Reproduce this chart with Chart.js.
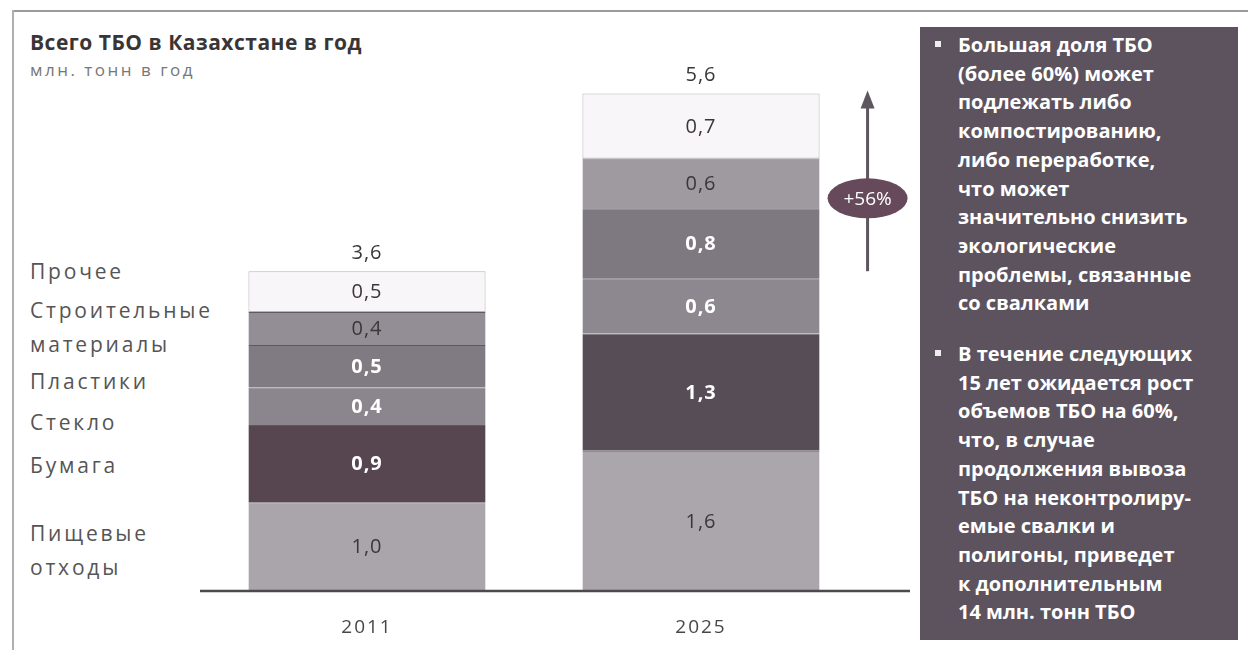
<!DOCTYPE html>
<html>
<head>
<meta charset="utf-8">
<script src="https://cdn.jsdelivr.net/npm/chart.js@4.4.1/dist/chart.umd.min.js"></script>
<style>
	body { margin: 0; width: 1248px; height: 650px; background: #fff; position: relative; overflow: hidden; font-family: 'Open Sans', sans-serif; }
	#frameTop { position: absolute; left: 12px; top: 10px; width: 1236px; height: 2px; background: #9a9a9a; }
	#frameLeft { position: absolute; left: 12px; top: 10px; width: 2px; height: 640px; background: #b0b0b0; }
	#title { position: absolute; left: 30px; top: 28px; font-size: 21px; font-weight: 700; color: #3a3535; letter-spacing: 0.5px; }
	#subtitle { position: absolute; left: 30px; top: 58px; font-size: 17px; color: #777; letter-spacing: 2.5px; }
	#wrap { position: absolute; left: 0; top: 0; width: 915px; height: 650px; }
	.cat { position: absolute; left: 30px; font-size: 21px; color: #555; letter-spacing: 2.8px; line-height: 24px; white-space: nowrap; }
	#panel { position: absolute; left: 920px; top: 27px; width: 318px; height: 613px; background: #5c535e; }
	#panel ul { margin: 0; padding: 0; list-style: none; position: absolute; left: 0; top: 4px; }
	#panel li { position: relative; padding-left: 38px; color: #fff; font-weight: 700; font-size: 20px; line-height: 28.7px; margin-bottom: 22px; white-space: nowrap; }
	#panel li::before { content: ''; position: absolute; left: 15px; top: 10px; width: 6px; height: 6px; background: #eee; }
</style>
</head>
<body>
<div id="frameTop"></div>
<div id="frameLeft"></div>
<div id="title">Всего ТБО в Казахстане в год</div>
<div id="subtitle">млн. тонн в год</div>
<div id="cats"></div>
<div id="wrap"><canvas id="chart" width="915" height="650"></canvas></div>
<div id="panel">
	<ul>
		<li>Большая доля ТБО<br>(более 60%) может<br>подлежать либо<br>компостированию,<br>либо переработке,<br>что может<br>значительно снизить<br>экологические<br>проблемы, связанные<br>со свалками</li>
		<li>В течение следующих<br>15 лет ожидается рост<br>объемов ТБО на 60%,<br>что, в случае<br>продолжения вывоза<br>ТБО на неконтролиру-<br>емые свалки и<br>полигоны, приведет<br>к дополнительным<br>14 млн. тонн ТБО</li>
	</ul>
</div>
<script>
const years = ['2011', '2025'];
const categories = ['Пищевые отходы', 'Бумага', 'Стекло', 'Пластики', 'Строительные материалы', 'Прочее'];
const food = [1.0, 1.58];
const paper = [0.87, 1.32];
const glass = [0.42, 0.62];
const plastic = [0.48, 0.79];
const construction = [0.37, 0.56];
const other = [0.46, 0.73];
const totals = [3.6, 5.6];

// left-hand legend lines (text, centre y in px)
const catLines = [
	['Прочее', 271], ['Строительные', 310], ['материалы', 344], ['Пластики', 381],
	['Стекло', 422], ['Бумага', 465], ['Пищевые', 533], ['отходы', 567]
];
const catRoot = document.getElementById('cats');
for (let [txt, y] of catLines) {
	let d = document.createElement('div');
	d.className = 'cat';
	d.style.top = (y - 12) + 'px';
	d.textContent = txt;
	catRoot.append(d);
}

const fmt = (v) => v.toFixed(1).replace('.', ',');

const seriesValues = [food, paper, glass, plastic, construction, other];
const fills = [
	['#a9a5ab', '#aaa6ac'],
	['#574550', '#574d56'],
	['#8b868d', '#8d888f'],
	['#807a82', '#7e7880'],
	['#938e95', '#9e9aa0'],
	['#f8f6f8', '#f8f6f8']
];
const labelLight = [false, true, true, true, false, false];

const datasets = seriesValues.map((vals, i) => ({
	label: categories[i],
	data: vals,
	backgroundColor: fills[i],
	borderColor: i === 5 ? '#b8b4b8' : '#5f5860',
	borderWidth: i === 5 ? 1 : { top: 1, left: 0, right: 0, bottom: 0 },
	borderSkipped: false,
	barPercentage: 0.71,
	categoryPercentage: 1
}));

const decor = {
	id: 'decor',
	afterDatasetsDraw(chart) {
		const ctx = chart.ctx;
		const area = chart.chartArea;
		const xs = chart.scales.x;
		const ys = chart.scales.y;
		ctx.save();
		ctx.textAlign = 'center';
		ctx.textBaseline = 'middle';
		if ('letterSpacing' in ctx) ctx.letterSpacing = '1px';
		// segment labels
		chart.data.datasets.forEach((ds, i) => {
			const meta = chart.getDatasetMeta(i);
			meta.data.forEach((bar, j) => {
				const mid = (bar.y + bar.base) / 2;
				ctx.font = labelLight[i] ? '700 20px "Open Sans"' : '400 20px "Open Sans"';
				ctx.fillStyle = labelLight[i] ? '#ffffff' : '#3b3638';
				ctx.fillText(fmt(ds.data[j]), bar.x, mid + 1);
			});
		});
		// totals
		ctx.font = '400 20px "Open Sans"';
		ctx.fillStyle = '#3b3638';
		totals.forEach((t, j) => {
			ctx.fillText(fmt(t), xs.getPixelForValue(j), ys.getPixelForValue(t) - 18);
		});
		// year labels
		ctx.font = '400 19px "Open Sans"';
		ctx.fillStyle = '#4a4648';
		if ('letterSpacing' in ctx) ctx.letterSpacing = '2px';
		years.forEach((y, j) => ctx.fillText(y, xs.getPixelForValue(j), area.bottom + 37));
		// baseline
		ctx.strokeStyle = '#4e4a4c';
		ctx.lineWidth = 2.5;
		ctx.beginPath();
		ctx.moveTo(area.left, area.bottom);
		ctx.lineTo(area.right + 42, area.bottom);
		ctx.stroke();
		// growth arrow
		const lastBar = chart.getDatasetMeta(5).data[1];
		const ax = lastBar.x + lastBar.width / 2 + 48;
		const yLow = ys.getPixelForValue(totals[0]);
		const yHigh = ys.getPixelForValue(totals[1]);
		ctx.strokeStyle = '#5e565e';
		ctx.fillStyle = '#5e565e';
		ctx.lineWidth = 3;
		ctx.beginPath();
		ctx.moveTo(ax, yLow);
		ctx.lineTo(ax, yHigh + 12);
		ctx.stroke();
		ctx.beginPath();
		ctx.moveTo(ax, yHigh - 3);
		ctx.lineTo(ax - 7, yHigh + 15);
		ctx.lineTo(ax + 7, yHigh + 15);
		ctx.closePath();
		ctx.fill();
		const growth = Math.round((totals[1] / totals[0] - 1) * 100);
		const ey = (yLow + yHigh) / 2 + 16;
		ctx.fillStyle = '#664a5b';
		ctx.beginPath();
		ctx.ellipse(ax, ey, 40, 20, 0, 0, Math.PI * 2);
		ctx.fill();
		ctx.fillStyle = '#ffffff';
		ctx.font = '400 19px "Open Sans"';
		if ('letterSpacing' in ctx) ctx.letterSpacing = '0px';
		ctx.fillText('+' + growth + '%', ax, ey + 1);
		ctx.restore();
	}
};

new Chart(document.getElementById('chart'), {
	type: 'bar',
	data: { labels: years, datasets: datasets },
	options: {
		responsive: false,
		animation: false,
		layout: { padding: { left: 200, right: 47, top: 58, bottom: 59 } },
		plugins: { legend: { display: false }, tooltip: { enabled: false } },
		scales: {
			x: { stacked: true, display: false },
			y: { stacked: true, display: false, min: 0, max: 6 }
		}
	},
	plugins: [decor]
});
</script>
</body>
</html>
